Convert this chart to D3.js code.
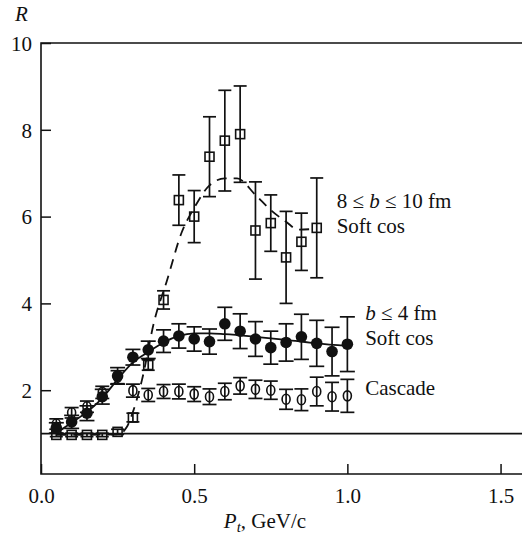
<!DOCTYPE html>
<html>
<head>
  <meta charset="UTF-8">
  <title>R vs Pt</title>
  <script src="https://cdn.jsdelivr.net/npm/d3@7"></script>
  <style>
    body { margin: 0; background: #fff; }
    svg text { font-family: "Liberation Serif", "Times New Roman", serif; font-size: 21px; fill: #111; }
    .tick line { stroke: #111; stroke-width: 1.5; }
  </style>
</head>
<body>
<svg id="svg" width="522" height="542"></svg>

<script type="text/javascript">

// transverse momentum bins, GeV/c
var pt = [0.05, 0.10, 0.15, 0.20, 0.25, 0.30, 0.35, 0.40, 0.45, 0.50,
          0.55, 0.60, 0.65, 0.70, 0.75, 0.80, 0.85, 0.90, 0.95, 1.00];

// b <= 4 fm, soft cos (filled circles)
var r4   = [1.13, 1.27, 1.47, 1.85, 2.33, 2.76, 2.93, 3.13, 3.25, 3.18,
            3.12, 3.53, 3.36, 3.18, 2.98, 3.10, 3.23, 3.08, 2.89, 3.06];
var err4 = [0.12, 0.15, 0.17, 0.17, 0.19, 0.18, 0.20, 0.26, 0.28, 0.28,
            0.29, 0.38, 0.40, 0.40, 0.38, 0.43, 0.52, 0.53, 0.56, 0.63];

// cascade (open circles)
var rCas   = [1.22, 1.48, 1.62, 1.95, 2.30, 1.99, 1.89, 1.97, 1.97, 1.91,
              1.85, 1.97, 2.10, 2.02, 2.00, 1.79, 1.78, 1.97, 1.85, 1.87];
var errCas = [0.12, 0.12, 0.13, 0.14, 0.15, 0.15, 0.15, 0.16, 0.17, 0.17,
              0.18, 0.19, 0.19, 0.21, 0.21, 0.23, 0.25, 0.33, 0.33, 0.38];

// 8 <= b <= 10 fm, soft cos (open squares), up to 0.9 GeV/c
var r10   = [0.97, 0.97, 0.97, 0.97, 1.04, 1.37, 2.58, 4.08, 6.38, 6.00,
             7.38, 7.75, 7.90, 5.68, 5.85, 5.06, 5.42, 5.74];
var err10 = [0.04, 0.04, 0.04, 0.04, 0.06, 0.10, 0.12, 0.21, 0.58, 0.60,
             0.92, 1.16, 1.11, 1.12, 0.65, 1.06, 0.66, 1.15];

// curves drawn through the data
var fit4X = [0.05, 0.10, 0.15, 0.20, 0.25, 0.30, 0.35, 0.40, 0.45, 0.50, 0.55, 0.60, 0.70, 0.80, 0.90, 1.00];
var fit4Y = [1.02, 1.25, 1.50, 1.82, 2.25, 2.64, 2.88, 3.10, 3.25, 3.31, 3.31, 3.29, 3.23, 3.16, 3.08, 3.02];

var fit10X = [0.05, 0.25, 0.28, 0.30, 0.33, 0.37, 0.41, 0.46, 0.50, 0.55, 0.60, 0.64, 0.70, 0.75, 0.80, 0.84, 0.90];
var fit10Y = [0.97, 0.98, 1.15, 1.50, 2.25, 3.60, 4.50, 5.65, 6.20, 6.72, 6.88, 6.88, 6.50, 6.15, 5.88, 5.70, 5.72];

var refLevel = 1;

var xTicks = [0, 0.5, 1.0, 1.5];
var yTicks = [2, 4, 6, 8, 10];

var labels = [
  {x: 0.965, y: 6.20, parts: [["8 \u2264 ", 0], ["b", 1], [" \u2264 10 fm", 0]]},
  {x: 0.965, y: 5.63, parts: [["Soft cos", 0]]},
  {x: 1.058, y: 3.61, parts: [["b", 1], [" \u2264 4 fm", 0]]},
  {x: 1.058, y: 3.03, parts: [["Soft cos", 0]]},
  {x: 1.058, y: 1.90, parts: [["Cascade", 0]]}
];

var plotL = 41, plotR = 522, plotT = 43, plotB = 474;

var svg = d3.select('#svg');

var x = d3.scaleLinear().domain([0, 1.57]).range([plotL, plotR]);
var y = d3.scaleLinear().domain([0, 10]).range([477, plotT]);

// frame
svg.append('path')
  .attr('d', 'M' + plotR + ',' + plotT + 'H' + plotL + 'V' + plotB + 'H' + plotR)
  .attr('fill', 'none')
  .attr('stroke', '#111')
  .attr('stroke-width', 1.6);

var xAxis = svg.append('g')
  .attr('transform', 'translate(0,' + plotB + ')')
  .call(d3.axisBottom(x).tickValues(xTicks).tickSize(-10).tickPadding(14).tickFormat(d3.format('.1f')));
xAxis.select('.domain').remove();

var yAxis = svg.append('g')
  .attr('transform', 'translate(' + plotL + ',0)')
  .call(d3.axisLeft(y).tickValues(yTicks).tickSize(-10).tickPadding(9));
yAxis.select('.domain').remove();
yAxis.selectAll('text').attr('dy', '0.35em');

svg.selectAll('.tick text')
  .style('font-family', '"Liberation Serif", "Times New Roman", serif')
  .style('font-size', '21px')
  .attr('fill', '#111');

// axis titles
svg.append('text')
  .attr('x', 15).attr('y', 21)
  .style('font-style', 'italic')
  .text('R');

var xt = svg.append('text')
  .attr('x', 265).attr('y', 528)
  .attr('text-anchor', 'middle');
xt.append('tspan').style('font-style', 'italic').text('P');
xt.append('tspan').style('font-style', 'italic').style('font-size', '15px').attr('dy', 4).text('t');
xt.append('tspan').attr('dy', -4).text(', GeV/c');

// reference line
svg.append('line')
  .attr('x1', x(0)).attr('x2', plotR)
  .attr('y1', y(refLevel)).attr('y2', y(refLevel))
  .attr('stroke', '#111')
  .attr('stroke-width', 1.8);

// curves
var line = d3.line()
  .x(function(d) { return x(d[0]); })
  .y(function(d) { return y(d[1]); })
  .curve(d3.curveMonotoneX);

svg.append('path')
  .attr('d', line(d3.zip(fit4X, fit4Y)))
  .attr('fill', 'none')
  .attr('stroke', '#111')
  .attr('stroke-width', 1.8);

svg.append('path')
  .attr('d', line(d3.zip(fit10X, fit10Y)))
  .attr('fill', 'none')
  .attr('stroke', '#111')
  .attr('stroke-width', 1.8)
  .attr('stroke-dasharray', '10,7');

// error bars
function errorBars(xs, ys, es, cap) {
  var g = svg.append('g').attr('stroke', '#111').attr('stroke-width', 1.7);
  ys.forEach(function(v, i) {
    var cx = x(xs[i]), lo = y(v - es[i]), hi = y(v + es[i]);
    g.append('line').attr('x1', cx).attr('x2', cx).attr('y1', lo).attr('y2', hi);
    g.append('line').attr('x1', cx - cap).attr('x2', cx + cap).attr('y1', lo).attr('y2', lo);
    g.append('line').attr('x1', cx - cap).attr('x2', cx + cap).attr('y1', hi).attr('y2', hi);
  });
}

errorBars(pt, r10, err10, 6.5);
errorBars(pt, rCas, errCas, 7);
errorBars(pt, r4, err4, 7.5);

// markers
svg.append('g').selectAll('rect')
  .data(r10)
  .join('rect')
  .attr('x', function(d, i) { return x(pt[i]) - 4.5; })
  .attr('y', function(d) { return y(d) - 4.5; })
  .attr('width', 9).attr('height', 9)
  .attr('fill', 'none')
  .attr('stroke', '#111')
  .attr('stroke-width', 1.6);

svg.append('g').selectAll('ellipse')
  .data(rCas)
  .join('ellipse')
  .attr('cx', function(d, i) { return x(pt[i]); })
  .attr('cy', function(d) { return y(d); })
  .attr('rx', 4).attr('ry', 5)
  .attr('fill', 'none')
  .attr('stroke', '#111')
  .attr('stroke-width', 1.6);

svg.append('g').selectAll('circle')
  .data(r4)
  .join('circle')
  .attr('cx', function(d, i) { return x(pt[i]); })
  .attr('cy', function(d) { return y(d); })
  .attr('r', 5.8)
  .attr('fill', '#111');

// series labels
labels.forEach(function(l) {
  var t = svg.append('text').attr('x', x(l.x)).attr('y', y(l.y));
  l.parts.forEach(function(p) {
    t.append('tspan').style('font-style', p[1] ? 'italic' : 'normal').text(p[0]);
  });
});

</script>
</body>
</html>
